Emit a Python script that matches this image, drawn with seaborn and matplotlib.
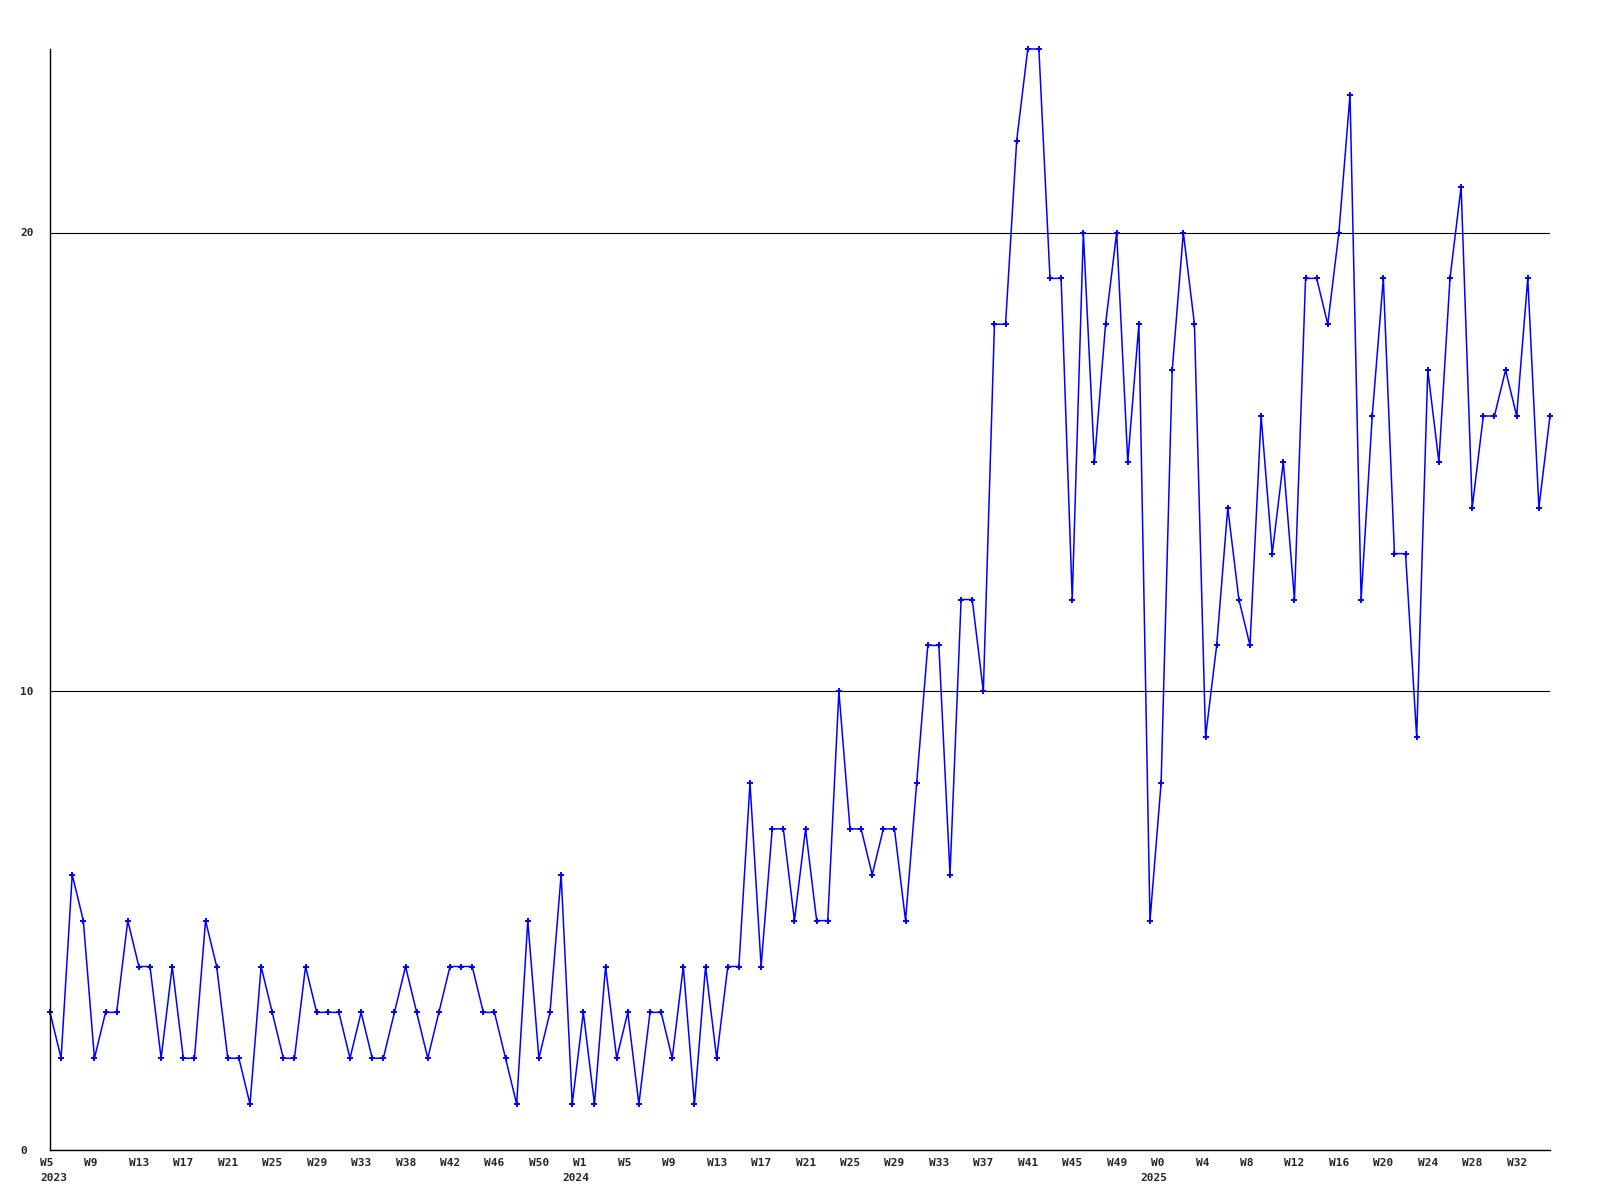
import matplotlib
matplotlib.use("Agg")
import matplotlib.pyplot as plt
from matplotlib.transforms import ScaledTranslation
import pandas as pd
import seaborn as sns

# weekly counts, W5 2023 .. W35 2025
values_2023 = [3, 2, 6, 5, 2, 3, 3, 5, 4, 4, 2, 4, 2, 2, 5, 4, 2, 2, 1, 4, 3, 2, 2, 4,
               3, 3, 3, 2, 3, 2, 2, 3, 4, 3, 2, 3, 4, 4, 4, 3, 3, 2, 1, 5, 2, 3, 6]
values_2024 = [1, 3, 1, 4, 2, 3, 1, 3, 3, 2, 4, 1, 4, 2, 4, 4, 8, 4, 7, 7, 5, 7, 5, 5,
               10, 7, 7, 6, 7, 7, 5, 8, 11, 11, 6, 12, 12, 10, 18, 18, 22, 24, 24, 19,
               19, 12, 20, 15, 18, 20, 15, 18]
values_2025 = [5, 8, 17, 20, 18, 9, 11, 14, 12, 11, 16, 13, 15, 12, 19, 19, 18, 20, 23,
               12, 16, 19, 13, 13, 9, 17, 15, 19, 21, 14, 16, 16, 17, 16, 19, 14, 16]

week_labels = ["W5", "W9", "W13", "W17", "W21", "W25", "W29", "W33", "W38", "W42",
               "W46", "W50", "W1", "W5", "W9", "W13", "W17", "W21", "W25", "W29",
               "W33", "W37", "W41", "W45", "W49", "W0", "W4", "W8", "W12", "W16",
               "W20", "W24", "W28", "W32"]
years = ["2023", "2024", "2025"]

values = values_2023 + values_2024 + values_2025
df = pd.DataFrame({"week": range(len(values)), "count": values})
year_starts = [0, len(values_2023), len(values_2023) + len(values_2024)]

sns.set_style("white")
plt.rcParams["font.family"] = ["DejaVu Sans Mono"]

fig = plt.figure(figsize=(16, 12), dpi=100)
ax = fig.add_axes([50 / 1600, 50 / 1200, 1500 / 1600, 1101 / 1200])

sns.lineplot(data=df, x="week", y="count", ax=ax, color="#0000ff", linewidth=1.1,
             marker="+", markersize=4.5, markeredgewidth=1.4, markeredgecolor="#0000ff",
             clip_on=False)

ax.set_xlim(0, len(values) - 1)
ax.set_ylim(0, 24)
ax.set_xlabel("")
ax.set_ylabel("")

ax.set_yticks([0, 10, 20])
ax.set_yticklabels(["0", "10", "20"], fontsize=8, fontweight="bold")
ax.yaxis.grid(True, color="black", linewidth=0.8)
ax.xaxis.grid(False)
ax.set_axisbelow(True)

# year labels sit on minor ticks, keep the one that shares x=0 with W5
ax.xaxis.remove_overlapping_locs = False
ax.set_xticks(range(0, len(values), 4))
ax.set_xticklabels(week_labels, fontsize=8, fontweight="bold")
ax.set_xticks(year_starts, minor=True)
ax.set_xticklabels(years, minor=True, fontsize=8, fontweight="bold")

ax.tick_params(axis="both", which="both", length=0)
ax.tick_params(axis="x", which="major", pad=5.5)
ax.tick_params(axis="x", which="minor", pad=16.5)
ax.tick_params(axis="y", pad=21.6)

shift = ScaledTranslation(-10 / 100, 0, fig.dpi_scale_trans)
for lbl in ax.get_xticklabels() + ax.get_xticklabels(minor=True):
    lbl.set_ha("left")
    lbl.set_transform(lbl.get_transform() + shift)
for lbl in ax.get_yticklabels():
    lbl.set_ha("left")

sns.despine(ax=ax)
for side in ["left", "bottom"]:
    ax.spines[side].set_color("black")
    ax.spines[side].set_linewidth(1)

fig.savefig("out.png", dpi=100, facecolor="white")
